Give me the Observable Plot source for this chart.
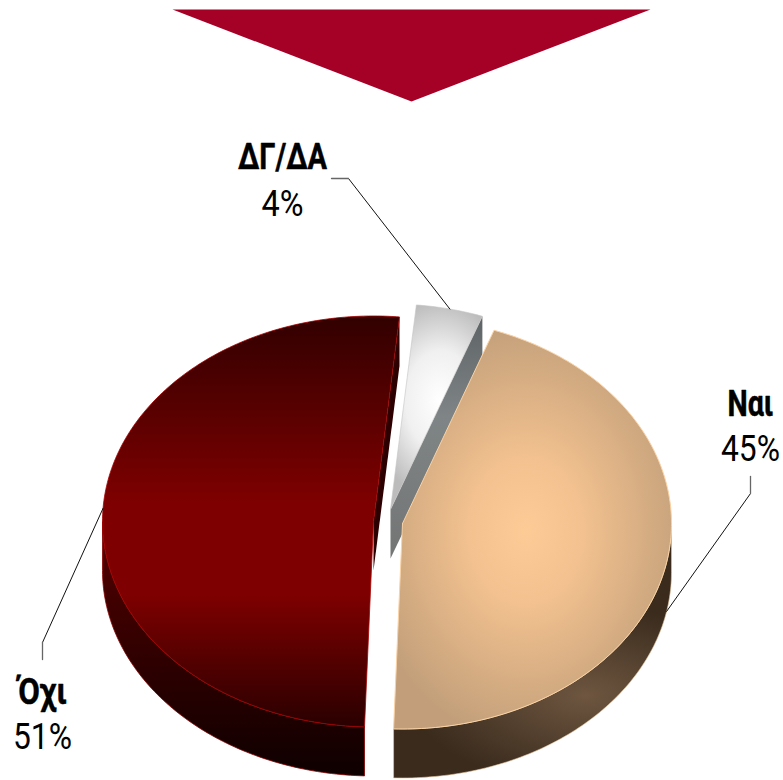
<!DOCTYPE html>
<html><head><meta charset="utf-8">
<script src="https://cdn.jsdelivr.net/npm/d3@7"></script>
<script src="https://cdn.jsdelivr.net/npm/@observablehq/plot@0.6"></script>
<style>html,body{margin:0;padding:0;background:#fff}svg{display:block}</style>
</head><body><div id="chart"></div>
<script>
const categories = ["ΔΓ/ΔΑ", "Ναι", "Όχι"];
const shares = [4, 45, 51];
const percentLabels = ["4%", "45%", "51%"];

// layout of the exploded, tilted pie (not data)
const startAngle = 5.5, ry = 205.5, depth = 49;
const centerX = [390, 402, 373], centerY = [509, 523, 521], radiusX = [270, 269, 271];
const labelX = [282, 750, 42], nameY = [168, 415, 703], pctY = [215, 460, 748];
const nameWidth = [89, 46, 49], pctWidth = [42, 59, 59];
const kneeX = [[331, 348], [750, 750], [42, 42]], kneeY = [[178, 178], [476, 493], [659, 642]];
const leaderDepth = [0, 1, 0];
const chevronX = [172, 650, 411], chevronY = [9, 9, 101];

let acc = startAngle;
const slices = categories.map((name, i) => {
  const a0 = acc, a1 = acc + shares[i] * 3.6; acc = a1;
  const rim = (a, d = 0) => {
    const t = a * Math.PI / 180;
    return {x: centerX[i] + radiusX[i] * Math.sin(t), y: centerY[i] - ry * Math.cos(t) + d};
  };
  return {name, i, a0, a1, rim, apex: {x: centerX[i], y: centerY[i]}};
});
const arc = (s, a0, a1, d = 0) => d3.range(a0, a1, 1).concat(a1).map(a => s.rim(a, d));
const topFace = s => [s.apex, ...arc(s, s.a0, s.a1), s.apex];
const wall = (s, a0, a1) => { const p = [...arc(s, a0, a1), ...arc(s, a0, a1, depth).reverse()]; return [...p, p[0]]; };
const cut = (s, a) => { const r = s.rim(a), d = {x: s.apex.x, y: s.apex.y + depth}; const r2 = s.rim(a, depth); return [s.apex, r, r2, d, s.apex]; };

const shape = (pts, fill, stroke = "none", strokeWidth = 1) =>
  Plot.line(pts, {x: "x", y: "y", curve: "linear", fill, stroke, strokeWidth});

const defs = () => {
  const ns = "http://www.w3.org/2000/svg";
  const d = document.createElementNS(ns, "defs");
  d.innerHTML = `
  <linearGradient id="noTop" gradientUnits="userSpaceOnUse" x1="0" x2="0" y1="316" y2="726">
    <stop offset="0" stop-color="#320000"/><stop offset=".45" stop-color="#7e0000"/>
    <stop offset=".68" stop-color="#7e0000"/><stop offset="1" stop-color="#2a0000"/></linearGradient>
  <linearGradient id="noWall" gradientUnits="userSpaceOnUse" x1="0" x2="0" y1="560" y2="775">
    <stop offset="0" stop-color="#4c0000"/><stop offset="1" stop-color="#0e0000"/></linearGradient>
  <radialGradient id="yesTop" gradientUnits="userSpaceOnUse" cx="0" cy="0" r="1" gradientTransform="translate(525 530) scale(165 210)">
    <stop offset="0" stop-color="#fdcb96"/><stop offset=".35" stop-color="#f2c18f"/><stop offset="1" stop-color="#c29f7a"/></radialGradient>
  <radialGradient id="yesWall" gradientUnits="userSpaceOnUse" cx="0" cy="0" r="1" gradientTransform="translate(585 695) scale(175 90)">
    <stop offset="0" stop-color="#6e5640"/><stop offset="1" stop-color="#3a2b1d"/></radialGradient>
  <radialGradient id="dkTop" gradientUnits="userSpaceOnUse" cx="0" cy="0" r="1" gradientTransform="translate(440 400) scale(70 100)">
    <stop offset="0" stop-color="#ffffff"/><stop offset=".5" stop-color="#f0f0f0"/><stop offset="1" stop-color="#bcbcbc"/></radialGradient>
  <linearGradient id="dkSide" gradientUnits="userSpaceOnUse" x1="0" x2="0" y1="320" y2="560">
    <stop offset="0" stop-color="#5f6566"/><stop offset=".4" stop-color="#7f8586"/><stop offset="1" stop-color="#737474"/></linearGradient>`;
  return d;
};

const [dk, yes, no] = slices;
const font = "Roboto,sans-serif";
const rows = slices.map(s => ({name: s.name, x: labelX[s.i], nameY: nameY[s.i], pct: percentLabels[s.i], pctY: pctY[s.i]}));
const leaders = slices.map(s => {
  const mid = (s.a0 + s.a1) / 2, end = s.rim(mid, leaderDepth[s.i] * depth);
  return {i: s.i, pts: [{x: kneeX[s.i][0], y: kneeY[s.i][0]}, {x: kneeX[s.i][1], y: kneeY[s.i][1]}, end]};
});

const chart = Plot.plot({
  width: 783, height: 780, margin: 0,
  style: {background: "#fff"},
  x: {type: "identity", axis: null},
  y: {type: "identity", axis: null},
  marks: [
    defs,
    shape(chevronX.map((x, k) => ({x, y: chevronY[k]})), "#a50026"),
    // ΔΓ/ΔΑ
    shape(cut(dk, dk.a1), "url(#dkSide)"),
    shape(topFace(dk), "url(#dkTop)", "#c4c4c4", 0.6),
    // Όχι
    shape(cut(no, no.a1), "#2c0000"),
    shape(wall(no, no.a0, 270), "url(#noWall)", "#8a0000", 0.8),
    shape(topFace(no), "url(#noTop)", "#a80000", 0.8),
    // Ναι
    shape(wall(yes, 90, yes.a1), "url(#yesWall)", "#e8c8a0", 0.6),
    shape(topFace(yes), "url(#yesTop)", "#fbd2a4", 1),
    // leaders
    ...leaders.map(l => Plot.line(l.pts, {x: "x", y: "y", stroke: "#111", strokeWidth: 1, curve: "linear"})),
    ...leaders.map(l => Plot.line(l.pts.slice(0, 2), {x: "x", y: "y", stroke: "#666", strokeWidth: 1.3, curve: "linear"})),
    // labels
    Plot.text(rows, {x: "x", y: "nameY", text: "name", fontFamily: font, fontWeight: 700, fontSize: 36.5, fill: "#000", stroke: "#000", strokeWidth: 0.5, lineAnchor: "bottom", textAnchor: "middle", className: "lab-name"}),
    Plot.text(rows, {x: "x", y: "pctY", text: "pct", fontFamily: font, fontWeight: 400, fontSize: 36.5, fill: "#000", lineAnchor: "bottom", textAnchor: "middle", className: "lab-pct"})
  ]
});
document.getElementById("chart").append(chart);
// condense the labels: the reference's narrow face is not installed
const fit = (cls, widths) => d3.select(chart).selectAll(`.${cls} text`).each(function (_, k) {
  const ratio = widths[k] / this.getComputedTextLength();
  this.setAttribute("transform", `${this.getAttribute("transform") || ""} scale(${ratio},1)`);
});
fit("lab-name", nameWidth);
fit("lab-pct", pctWidth);
</script>
</body></html>
